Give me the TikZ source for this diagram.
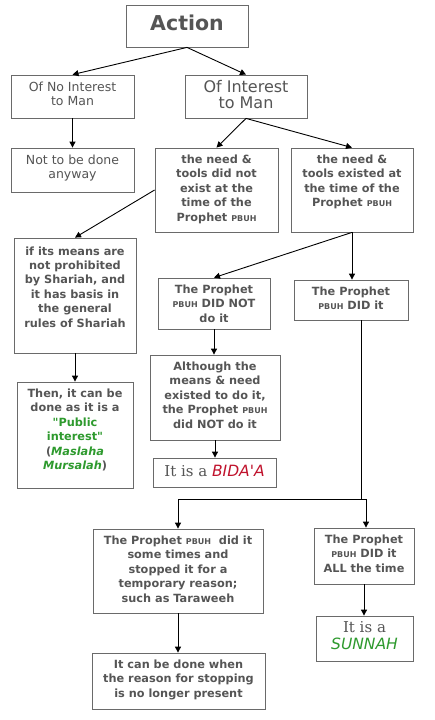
\documentclass[tikz,border=0pt]{standalone}
\usepackage{fontspec}
\setmainfont{DejaVu Sans}[Ligatures=TeXOff]
\newfontfamily\serifit{DejaVu Serif}[Ligatures=TeXOff]
\usetikzlibrary{arrows.meta}
\definecolor{txt}{HTML}{555555}
\definecolor{boxc}{HTML}{6A6A6A}
\definecolor{grn}{HTML}{2E9A2E}
\definecolor{rd}{HTML}{C0122C}
\newcommand{\bx}[4][15.5]{\parbox[c][#3pt][t]{#2pt}{\centering\rule{0pt}{#1pt}#4\par}}
\newcommand{\pbuh}{{\fontsize{8}{8}\selectfont PBUH}}
\begin{document}
\begin{tikzpicture}[x=1pt,y=-1pt,
  box/.style={draw=boxc,line width=0.8pt,inner sep=0pt,text=txt},
  body/.style={box,font=\fontsize{11.3}{14.4}\selectfont\bfseries},
  light/.style={box,font=\fontsize{12.5}{14.5}\selectfont},
  conn/.style={draw=black,line width=0.9pt},
  arr/.style={conn,-{Triangle[length=6pt,width=6pt]}}]
\useasboundingbox (0,0) rectangle (434,720);
\fill[white] (0,0) rectangle (434,720);

\node[box,font=\fontsize{20.5}{22}\selectfont\bfseries] (act) at (187,26) {\bx[25]{122}{42}{Action}};
\node[light] (noint) at (72.5,96.5) {\bx[16]{123}{43}{Of No Interest\\to Man}};
\node[box,font=\fontsize{16}{16}\selectfont] (int) at (246,96.5) {\bx[17.5]{122}{43}{Of Interest\\to Man}};
\node[light] (notdone) at (72.5,170) {\bx[16]{123}{44}{Not to be done\\anyway}};
\node[body] (notexist) at (216.5,190) {\bx{123}{84}{the need \&\\tools did not\\exist at the\\time of the\\Prophet \pbuh}};
\node[body] (existed) at (352,190) {\bx{122}{84}{the need \&\\tools existed at\\the time of the\\Prophet \pbuh}};
\node[body] (means) at (75,295.5) {\bx[17]{122}{115}{if its means are\\not prohibited\\by Shariah, and\\it has basis in\\the general\\rules of Shariah}};
\node[body] (didnot) at (214,303.5) {\bx{112}{51}{The Prophet\\\pbuh\ DID NOT\\do it}};
\node[body] (didit) at (351,300) {\bx{114}{40}{The Prophet\\\pbuh\ DID it}};
\node[body] (although) at (215,397.5) {\bx{130}{85}{Although the\\means \& need\\existed to do it,\\the Prophet \pbuh\\did NOT do it}};
\node[box,font=\fontsize{15}{17}\selectfont] (bidaa) at (214.5,472.5) {\bx[18.5]{123}{29}{{\serifit It is a }{\fontsize{15.5}{17}\selectfont\itshape\color{rd}BIDA'A}}};
\node[body] (then) at (75,435) {\bx{116}{106}{Then, it can be\\done as it is a\\{\color{grn}"Public\\interest"}\\({\color{grn}\itshape Maslaha\\Mursalah})}};
\node[body] (sometimes) at (178,571) {\bx{170}{84}{The Prophet \pbuh\ \ did it\\some times and\\stopped it for a\\temporary reason;\\such as Taraweeh}};
\node[body] (alltime) at (364,556) {\bx{100}{56}{The Prophet\\\pbuh\ DID it\\ALL the time}};
\node[box,font=\fontsize{15}{17}\selectfont] (sunnah) at (364.5,638.5) {\bx[16.5]{97}{45}{{\serifit It is a}\\{\fontsize{15.5}{17}\selectfont\itshape\color{grn}SUNNAH}}};
\node[body] (canbedone) at (178.5,681) {\bx{173}{56}{It can be done when\\the reason for stopping\\is no longer present}};

\coordinate (j) at (361,499);
\coordinate (jl) at (178,499);
\coordinate (jr) at (366,499);

\draw[arr] (act.south) -- (noint.north);
\draw[arr] (act.south) -- (int.north);
\draw[arr] (noint.south) -- (notdone.north);
\draw[arr] (int.south) -- (notexist.north);
\draw[arr] (int.south) -- (existed.north);
\draw[arr] (notexist.west) -- (means.north);
\draw[arr] (existed.south) -- (didnot.north);
\draw[arr] (existed.south) -- (existed.south |- didit.north);
\draw[arr] (means.south) -- (means.south |- then.north);
\draw[arr] (didnot.south) -- (didnot.south |- although.north);
\draw[arr] (although.south) -- (although.south |- bidaa.north);
\draw[conn] (didit.south -| j) -- (j);
\draw[conn] (jl) -- (jr);
\draw[arr] (jl) -- (jl |- sometimes.north);
\draw[arr] (jr) -- (jr |- alltime.north);
\draw[arr] (sometimes.south) -- (sometimes.south |- canbedone.north);
\draw[arr] (alltime.south) -- (alltime.south |- sunnah.north);
\end{tikzpicture}
\end{document}
